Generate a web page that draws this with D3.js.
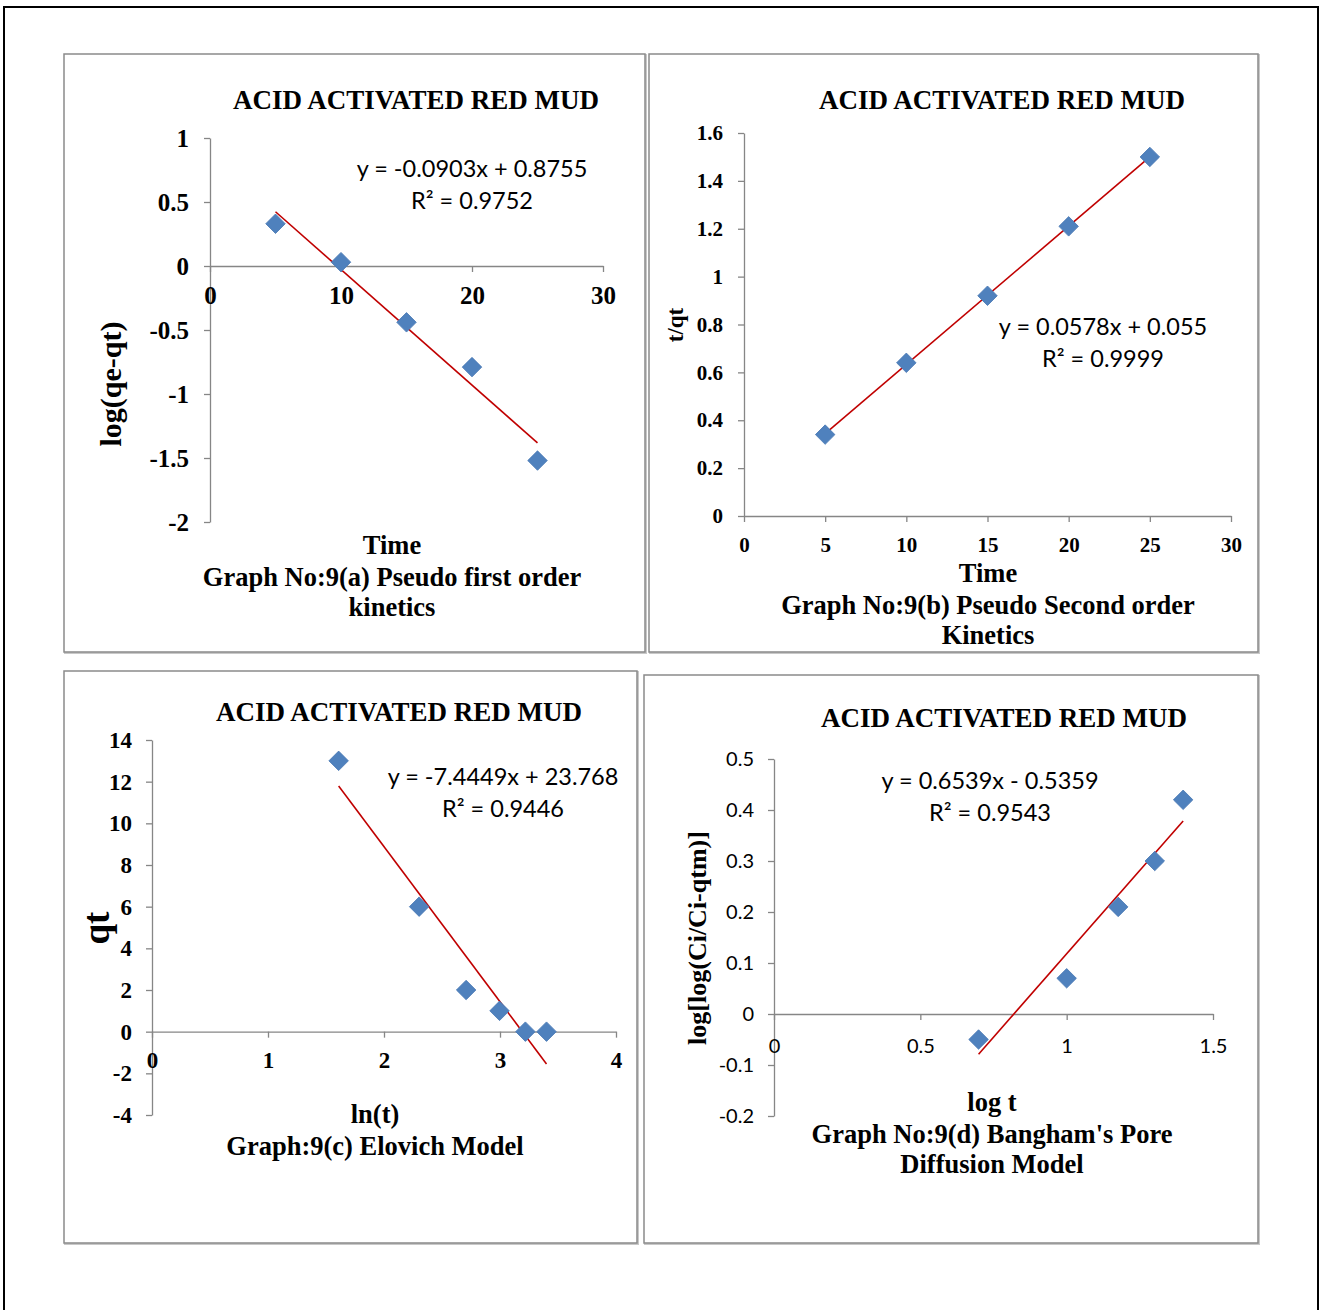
<!DOCTYPE html>
<html>
<head>
<meta charset="utf-8">
<script src="https://cdn.jsdelivr.net/npm/d3@7"></script>
<style>
  body { margin: 0; background: #fff; }
  svg { display: block; }
</style>
</head>
<body>
<svg id="chart" width="1322" height="1310"></svg>
<script>
// ---- data ----
// (a) pseudo first order
var timeA = [5, 10, 15, 20, 25];
var logQeQt = [0.33, 0.03, -0.44, -0.79, -1.52];
var fitA = [-0.0903, 0.8755];
// (b) pseudo second order
var timeB = [5, 10, 15, 20, 25];
var tOverQt = [0.34, 0.64, 0.92, 1.21, 1.50];
var fitB = [0.0578, 0.055];
// (c) elovich
var lnT = [1.609, 2.303, 2.708, 2.996, 3.219, 3.401];
var qt = [13, 6, 2, 1, 0, 0];
var fitC = [-7.4449, 23.768];
// (d) bangham
var logT = [0.699, 1.0, 1.176, 1.301, 1.398];
var logLog = [-0.05, 0.07, 0.21, 0.30, 0.42];
var fitD = [0.6539, -0.5359];

var ticksAx = [0, 10, 20, 30], ticksAy = [-2, -1.5, -1, -0.5, 0, 0.5, 1];
var ticksBx = [0, 5, 10, 15, 20, 25, 30], ticksBy = [0, 0.2, 0.4, 0.6, 0.8, 1, 1.2, 1.4, 1.6];
var ticksCx = [0, 1, 2, 3, 4], ticksCy = [-4, -2, 0, 2, 4, 6, 8, 10, 12, 14];
var ticksDx = [0, 0.5, 1, 1.5], ticksDy = [-0.2, -0.1, 0, 0.1, 0.2, 0.3, 0.4, 0.5];

var serif = "'Liberation Serif', 'Times New Roman', serif";
var sans = "Lato, 'Open Sans', sans-serif";
var axisColor = "#868686";
var markerColor = "#4F81BD";
var fitColor = "#C00000";

var svg = d3.select("#chart");

// outer page border
svg.append("rect")
    .attr("x", 4).attr("y", 7).attr("width", 1314).attr("height", 1320)
    .attr("fill", "none").attr("stroke", "#000").attr("stroke-width", 2);

var panels = [
    {
        frame: [64, 54, 581, 598],
        xs: timeA, ys: logQeQt, fit: fitA,
        x: d3.scaleLinear().domain([0, 30]).range([210, 603]),
        y: d3.scaleLinear().domain([-2, 1]).range([522, 138]),
        xTicks: ticksAx, yTicks: ticksAy,
        tickFont: serif, tickWeight: "bold", tickSize: 25, xPad: 14, yPad: 15,
        title: [416, 100],
        eq: ["y = -0.0903x + 0.8755", "R\u00b2 = 0.9752"], eqPos: [472, 168],
        yLabel: { text: "log(qe-qt)", x: 110, y: 384, size: 30 },
        xLabel: ["Time", "Graph No:9(a) Pseudo first order", "kinetics"], xLabelPos: [392, 545]
    },
    {
        frame: [649, 54, 609, 598],
        xs: timeB, ys: tOverQt, fit: fitB,
        x: d3.scaleLinear().domain([0, 30]).range([744, 1231]),
        y: d3.scaleLinear().domain([0, 1.6]).range([516, 133]),
        xTicks: ticksBx, yTicks: ticksBy,
        tickFont: serif, tickWeight: "bold", tickSize: 21, xPad: 15, yPad: 15,
        title: [1002, 100],
        eq: ["y = 0.0578x + 0.055", "R\u00b2 = 0.9999"], eqPos: [1103, 326],
        yLabel: { text: "t/qt", x: 675, y: 325, size: 23 },
        xLabel: ["Time", "Graph No:9(b) Pseudo Second order", "Kinetics"], xLabelPos: [988, 573]
    },
    {
        frame: [64, 671, 573, 572],
        xs: lnT, ys: qt, fit: fitC,
        x: d3.scaleLinear().domain([0, 4]).range([152, 616]),
        y: d3.scaleLinear().domain([-4, 14]).range([1115, 740]),
        xTicks: ticksCx, yTicks: ticksCy,
        tickFont: serif, tickWeight: "bold", tickSize: 23, xPad: 14, yPad: 14,
        title: [399, 712],
        eq: ["y = -7.4449x + 23.768", "R\u00b2 = 0.9446"], eqPos: [503, 776],
        yLabel: { text: "qt", x: 96, y: 928, size: 37 },
        xLabel: ["ln(t)", "Graph:9(c) Elovich Model"], xLabelPos: [375, 1114]
    },
    {
        frame: [644, 675, 614, 568],
        xs: logT, ys: logLog, fit: fitD,
        x: d3.scaleLinear().domain([0, 1.5]).range([774, 1213]),
        y: d3.scaleLinear().domain([-0.2, 0.5]).range([1116, 759]),
        xTicks: ticksDx, yTicks: ticksDy,
        tickFont: sans, tickWeight: "normal", tickSize: 20, xPad: 19, yPad: 14,
        title: [1004, 718],
        eq: ["y = 0.6539x - 0.5359", "R\u00b2 = 0.9543"], eqPos: [990, 780],
        yLabel: { text: "log[log(Ci/Ci-qtm)]", x: 697, y: 938, size: 26 },
        xLabel: ["log t", "Graph No:9(d) Bangham's Pore", "Diffusion Model"], xLabelPos: [992, 1102]
    }
];

var diamond = d3.symbol().type(d3.symbolSquare).size(190);

panels.forEach(function (p) {
    var g = svg.append("g");

    // panel frame with a slight shadow
    g.append("rect")
        .attr("x", p.frame[0] + 1).attr("y", p.frame[1] + 1)
        .attr("width", p.frame[2]).attr("height", p.frame[3])
        .attr("fill", "none").attr("stroke", "#c8c8c8").attr("stroke-width", 2);
    g.append("rect")
        .attr("x", p.frame[0]).attr("y", p.frame[1])
        .attr("width", p.frame[2]).attr("height", p.frame[3])
        .attr("fill", "#fff").attr("stroke", "#8a8a8a").attr("stroke-width", 1.5);

    var fmt = function (d) { return String(d); };

    var yAxis = g.append("g")
        .attr("transform", "translate(" + p.x(0) + ",0)")
        .call(d3.axisLeft(p.y).tickValues(p.yTicks).tickFormat(fmt)
            .tickSize(6).tickSizeOuter(0).tickPadding(p.yPad));

    var xAxis = g.append("g")
        .attr("transform", "translate(0," + p.y(0) + ")")
        .call(d3.axisBottom(p.x).tickValues(p.xTicks).tickFormat(fmt)
            .tickSize(6).tickSizeOuter(0).tickPadding(p.xPad));

    [xAxis, yAxis].forEach(function (ax) {
        ax.select(".domain").attr("stroke", axisColor).attr("stroke-width", 1.3);
        ax.selectAll(".tick line").attr("stroke", axisColor).attr("stroke-width", 1.3);
        ax.selectAll(".tick text")
            .attr("fill", "#000")
            .style("font-family", p.tickFont)
            .style("font-weight", p.tickWeight)
            .style("font-size", p.tickSize + "px");
    });

    // trendline
    var x0 = d3.min(p.xs), x1 = d3.max(p.xs);
    g.append("line")
        .attr("x1", p.x(x0)).attr("y1", p.y(p.fit[0] * x0 + p.fit[1]))
        .attr("x2", p.x(x1)).attr("y2", p.y(p.fit[0] * x1 + p.fit[1]))
        .attr("stroke", fitColor).attr("stroke-width", 1.6);

    // markers
    g.selectAll("path.pt")
        .data(p.xs.map(function (v, i) { return [v, p.ys[i]]; }))
        .enter().append("path")
        .attr("class", "pt")
        .attr("d", diamond)
        .attr("transform", function (d) {
            return "translate(" + p.x(d[0]) + "," + p.y(d[1]) + ") rotate(45)";
        })
        .attr("fill", markerColor)
        .attr("stroke", "#4a7ab5").attr("stroke-width", 0.8);

    // chart title
    g.append("text")
        .attr("x", p.title[0]).attr("y", p.title[1])
        .attr("text-anchor", "middle").attr("dominant-baseline", "central")
        .style("font-family", serif).style("font-weight", "bold").style("font-size", "27px")
        .text("ACID ACTIVATED RED MUD");

    // trendline equation
    p.eq.forEach(function (s, i) {
        g.append("text")
            .attr("x", p.eqPos[0]).attr("y", p.eqPos[1] + i * 32)
            .attr("text-anchor", "middle").attr("dominant-baseline", "central")
            .style("font-family", sans).style("font-size", "23.5px")
            .text(s);
    });

    // y title
    g.append("text")
        .attr("transform", "translate(" + p.yLabel.x + "," + p.yLabel.y + ") rotate(-90)")
        .attr("text-anchor", "middle").attr("dominant-baseline", "central")
        .style("font-family", serif).style("font-weight", "bold")
        .style("font-size", p.yLabel.size + "px")
        .text(p.yLabel.text);

    // x title + caption
    p.xLabel.forEach(function (s, i) {
        g.append("text")
            .attr("x", p.xLabelPos[0]).attr("y", p.xLabelPos[1] + (i === 0 ? 0 : 1 + i * 30.5))
            .attr("text-anchor", "middle").attr("dominant-baseline", "central")
            .style("font-family", serif).style("font-weight", "bold").style("font-size", "26.5px")
            .text(s);
    });
});
</script>
</body>
</html>
